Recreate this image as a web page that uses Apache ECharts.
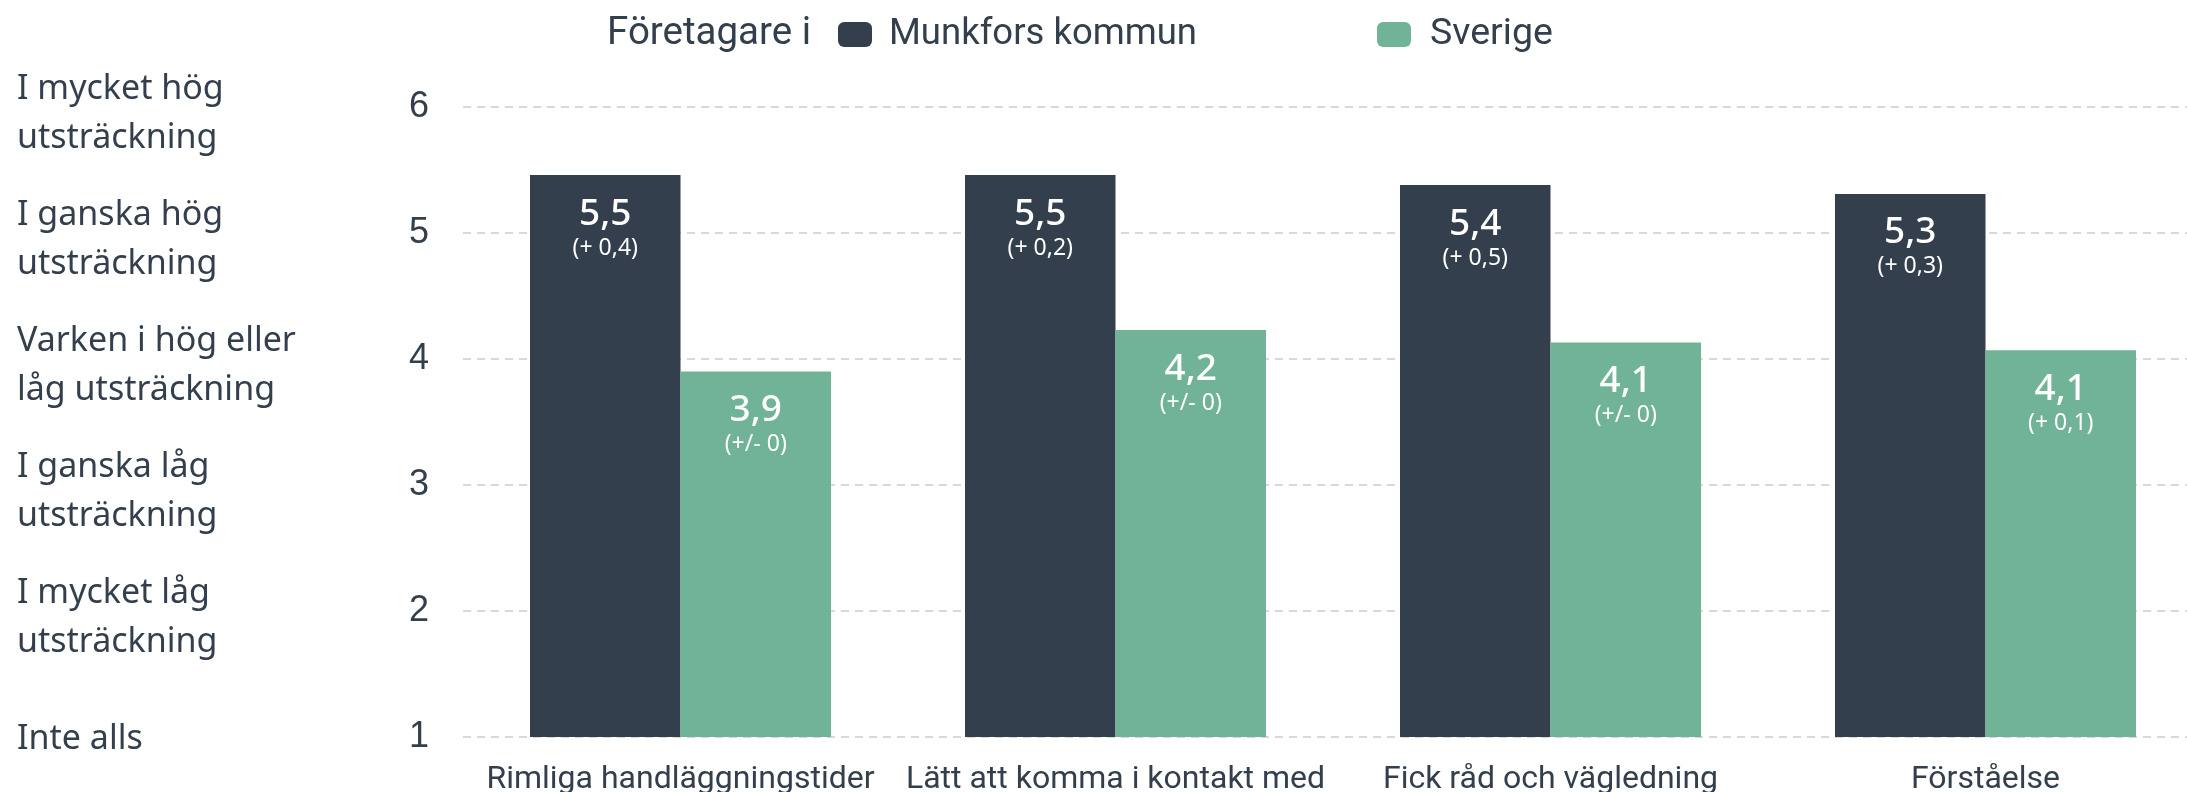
<!DOCTYPE html>
<html>
<head>
<meta charset="utf-8">
<script src="https://cdn.jsdelivr.net/npm/echarts@6/dist/echarts.min.js"></script>
<style>
html,body{margin:0;padding:0;background:#fff;}
#chart{width:2187px;height:792px;}
</style>
</head>
<body>
<div id="chart"></div>
<script>
const categories = ['Rimliga handläggningstider', 'Lätt att komma i kontakt med', 'Fick råd och vägledning', 'Förståelse'];
const munkforsValues = [5.46, 5.46, 5.38, 5.31];
const sverigeValues = [3.90, 4.23, 4.13, 4.07];
const munkforsLabels = ['5,5', '5,5', '5,4', '5,3'];
const munkforsChanges = ['(+ 0,4)', '(+ 0,2)', '(+ 0,5)', '(+ 0,3)'];
const sverigeLabels = ['3,9', '4,2', '4,1', '4,1'];
const sverigeChanges = ['(+/- 0)', '(+/- 0)', '(+/- 0)', '(+ 0,1)'];
const scaleLabels = ['Inte alls', 'I mycket låg\nutsträckning', 'I ganska låg\nutsträckning', 'Varken i hög eller\nlåg utsträckning', 'I ganska hög\nutsträckning', 'I mycket hög\nutsträckning'];
const legendPrefix = 'Företagare i';
const seriesNames = ['Munkfors kommun', 'Sverige'];

const DARK = '#333f4c';
const GREEN = '#70b396';
const TEXT = '#333f4c';
const SANS = 'Roboto, sans-serif';
const LABELFONT = '"Noto Sans", sans-serif';

function barLabel(labels, changes) {
  return {
    show: true,
    position: 'insideTop',
    distance: 17,
    formatter: p => '{big|' + labels[p.dataIndex] + '}\n{small|' + changes[p.dataIndex] + '}',
    rich: {
      big: {fontFamily: LABELFONT, fontSize: 37, fontWeight: 500, lineHeight: 44, color: '#fff', align: 'center'},
      small: {fontFamily: LABELFONT, fontSize: 23, lineHeight: 24, color: '#fff', align: 'center'}
    }
  };
}

function scaleLabel(v) {
  const lines = scaleLabels[Math.round(v) - 1].split('\n');
  const spacer = lines.length > 1 ? '{sp2| }' : '{sp1| }';
  return spacer + '\n' + lines.map(l => '{t|' + l + '}').join('\n');
}

const chart = echarts.init(document.getElementById('chart'), null, {renderer: 'canvas'});
chart.setOption({
  animation: false,
  backgroundColor: '#fff',
  grid: {left: 463, width: 1740, top: 107, bottom: 55, containLabel: false, outerBoundsMode: 'none'},
  graphic: [{
    type: 'text', left: 607, top: 13,
    style: {text: legendPrefix, font: '38.5px Roboto', fill: TEXT, lineHeight: 42}
  }],
  legend: [
    {data: [seriesNames[0]], left: 838, top: 14.5, padding: 0, itemWidth: 34, itemHeight: 25, icon: 'roundRect',
     textStyle: {fontFamily: SANS, fontSize: 36.5, color: TEXT, lineHeight: 40, padding: [0, 0, 0, 12]}},
    {data: [seriesNames[1]], left: 1377, top: 14.5, padding: 0, itemWidth: 34, itemHeight: 25, icon: 'roundRect',
     textStyle: {fontFamily: SANS, fontSize: 37.5, color: TEXT, lineHeight: 40, padding: [0, 0, 0, 14]}}
  ],
  xAxis: {
    type: 'category', data: categories,
    axisLine: {show: false}, axisTick: {show: false},
    axisLabel: {fontFamily: SANS, fontSize: 32, color: TEXT, margin: 27, interval: 0}
  },
  yAxis: [
    {
      type: 'value', min: 1, max: 6, interval: 1, position: 'left',
      axisLine: {show: false}, axisTick: {show: false},
      axisLabel: {fontFamily: '"Liberation Sans", Arial, sans-serif', fontSize: 36, color: TEXT, margin: 34},
      splitLine: {show: true, lineStyle: {color: '#cccccc', type: [8, 6], width: 1.5}}
    },
    {
      type: 'value', min: 1, max: 6, interval: 1, position: 'left',
      axisLine: {show: false}, axisTick: {show: false}, splitLine: {show: false},
      axisLabel: {
        color: TEXT, align: 'left', margin: 446,
        formatter: scaleLabel,
        rich: {
          t: {fontFamily: LABELFONT, fontSize: 34, lineHeight: 49, color: TEXT, align: 'left'},
          sp1: {fontSize: 4, lineHeight: 5},
          sp2: {fontSize: 4, lineHeight: 14}
        }
      }
    }
  ],
  series: [
    {name: seriesNames[0], type: 'bar', data: munkforsValues, barWidth: 150.5, barGap: '0%',
     itemStyle: {color: DARK}, label: barLabel(munkforsLabels, munkforsChanges)},
    {name: seriesNames[1], type: 'bar', data: sverigeValues, barWidth: 150.5, barGap: '0%',
     itemStyle: {color: GREEN}, label: barLabel(sverigeLabels, sverigeChanges)}
  ]
});
</script>
</body>
</html>
